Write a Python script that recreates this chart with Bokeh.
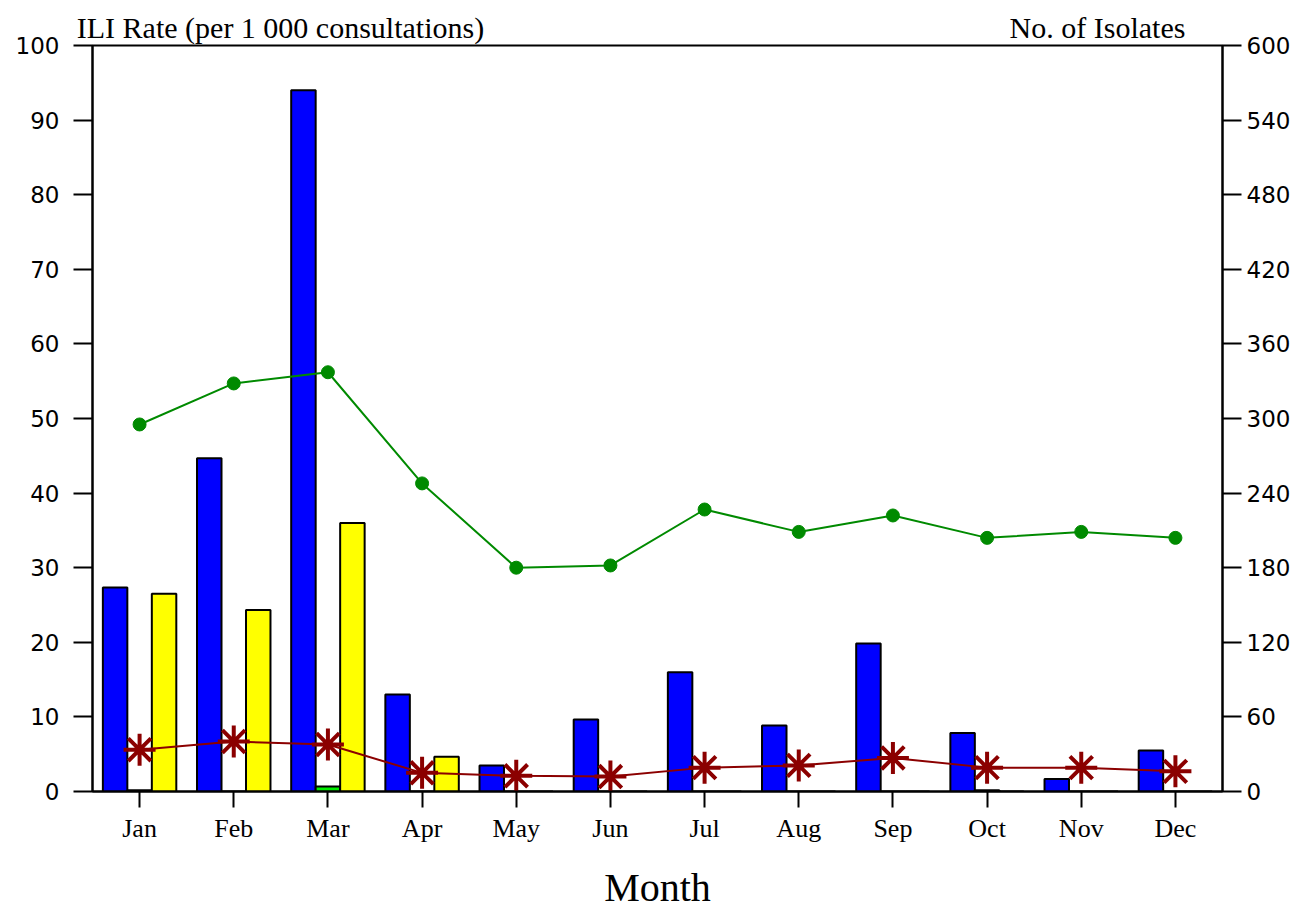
import numpy as np
from bokeh.plotting import figure
from bokeh.models import Range1d, LinearAxis, FixedTicker
from bokeh.embed import file_html
from bokeh.resources import INLINE

months = ["Jan", "Feb", "Mar", "Apr", "May", "Jun", "Jul", "Aug", "Sep", "Oct", "Nov", "Dec"]
# isolates (right axis)
blue_isolates = [164, 268, 564, 78, 21, 58, 96, 53, 119, 47, 10, 33]
green_isolates = [1, 0, 4, 0, 0, 0, 0, 0, 0, 1, 0, 0]
yellow_isolates = [159, 146, 216, 28, 0, 0, 0, 0, 0, 0, 0, 0]
# ILI rate (left axis)
ili_rate = [49.2, 54.7, 56.2, 41.3, 30.0, 30.3, 37.8, 34.8, 37.0, 34.0, 34.8, 34.0]
red_rate = [5.6, 6.7, 6.3, 2.5, 2.1, 2.0, 3.2, 3.5, 4.5, 3.2, 3.2, 2.7]

left_ticks = list(range(0, 101, 10))
right_ticks = list(range(0, 601, 60))
left_title = "ILI Rate (per 1 000 consultations)"
right_title = "No. of Isolates"

x = np.arange(len(months))
NUM_FONT = "DejaVu Sans"
SERIF = "Liberation Serif"

p = figure(width=1310, height=912, output_backend="svg", toolbar_location=None,
           x_range=Range1d(-0.5, 11.5), y_range=Range1d(0, 100),
           min_border_left=92, min_border_right=88, min_border_top=45, min_border_bottom=121)
p.extra_y_ranges = {"iso": Range1d(0, 600)}
# pixel-like helper range for the two titles placed above the frame
p.extra_x_ranges = {"px": Range1d(92, 1222)}
p.xgrid.visible = False
p.ygrid.visible = False
p.outline_line_color = "black"
p.outline_line_width = 2
p.background_fill_color = "white"
p.border_fill_color = "white"

bw = 0.26
p.vbar(x=x - bw, top=blue_isolates, width=bw, y_range_name="iso",
       fill_color="#0000ff", line_color="black", line_width=2)
p.vbar(x=x, top=green_isolates, width=bw, y_range_name="iso",
       fill_color="#00ee00", line_color="black", line_width=2)
p.vbar(x=x + bw, top=yellow_isolates, width=bw, y_range_name="iso",
       fill_color="#ffff00", line_color="black", line_width=2)

p.line(x, ili_rate, line_color="#008a00", line_width=2)
p.scatter(x, ili_rate, marker="circle", size=13, fill_color="#008a00", line_color="#008a00")

p.line(x, red_rate, line_color="#8b0000", line_width=2)
p.scatter(x, red_rate, marker="asterisk", size=32, line_color="#8b0000", line_width=4)

# bottom axis
xa = p.below[0]
xa.ticker = FixedTicker(ticks=list(range(len(months))))
xa.major_label_overrides = {i: m for i, m in enumerate(months)}
xa.major_tick_in = 0
xa.major_tick_out = 16
xa.minor_tick_line_color = None
xa.major_tick_line_width = 2
xa.axis_line_width = 2
xa.major_label_text_font = SERIF
xa.major_label_text_font_size = "26px"
xa.major_label_text_color = "black"
xa.major_label_standoff = 6
xa.axis_label = "Month"
xa.axis_label_text_font = SERIF
xa.axis_label_text_font_size = "40px"
xa.axis_label_text_font_style = "normal"
xa.axis_label_text_color = "black"
xa.axis_label_standoff = 19

# left axis
ya = p.left[0]
ya.ticker = FixedTicker(ticks=left_ticks)
ya.major_tick_in = 0
ya.major_tick_out = 19
ya.minor_tick_line_color = None
ya.major_tick_line_width = 2
ya.axis_line_width = 2
ya.major_label_text_font = NUM_FONT
ya.major_label_text_font_size = "23px"
ya.major_label_text_color = "black"
ya.major_label_standoff = 14

ra = LinearAxis(y_range_name="iso", ticker=FixedTicker(ticks=right_ticks))
ra.major_tick_in = 0
ra.major_tick_out = 19
ra.minor_tick_line_color = None
ra.major_tick_line_width = 2
ra.axis_line_width = 2
ra.major_label_text_font = NUM_FONT
ra.major_label_text_font_size = "23px"
ra.major_label_text_color = "black"
ra.major_label_standoff = 5
p.add_layout(ra, "right")

# titles above the frame, shown as tick labels of an invisible top axis
ta = LinearAxis(x_range_name="px", ticker=FixedTicker(ticks=[280, 1097]))
ta.major_label_overrides = {280: left_title, 1097: right_title}
ta.axis_line_color = None
ta.major_tick_line_color = None
ta.minor_tick_line_color = None
ta.major_tick_out = 0
ta.major_label_text_font = SERIF
ta.major_label_text_font_size = "30px"
ta.major_label_text_color = "black"
ta.major_label_standoff = 2
p.add_layout(ta, "above")

open("out.html", "w").write(file_html(p, INLINE))
